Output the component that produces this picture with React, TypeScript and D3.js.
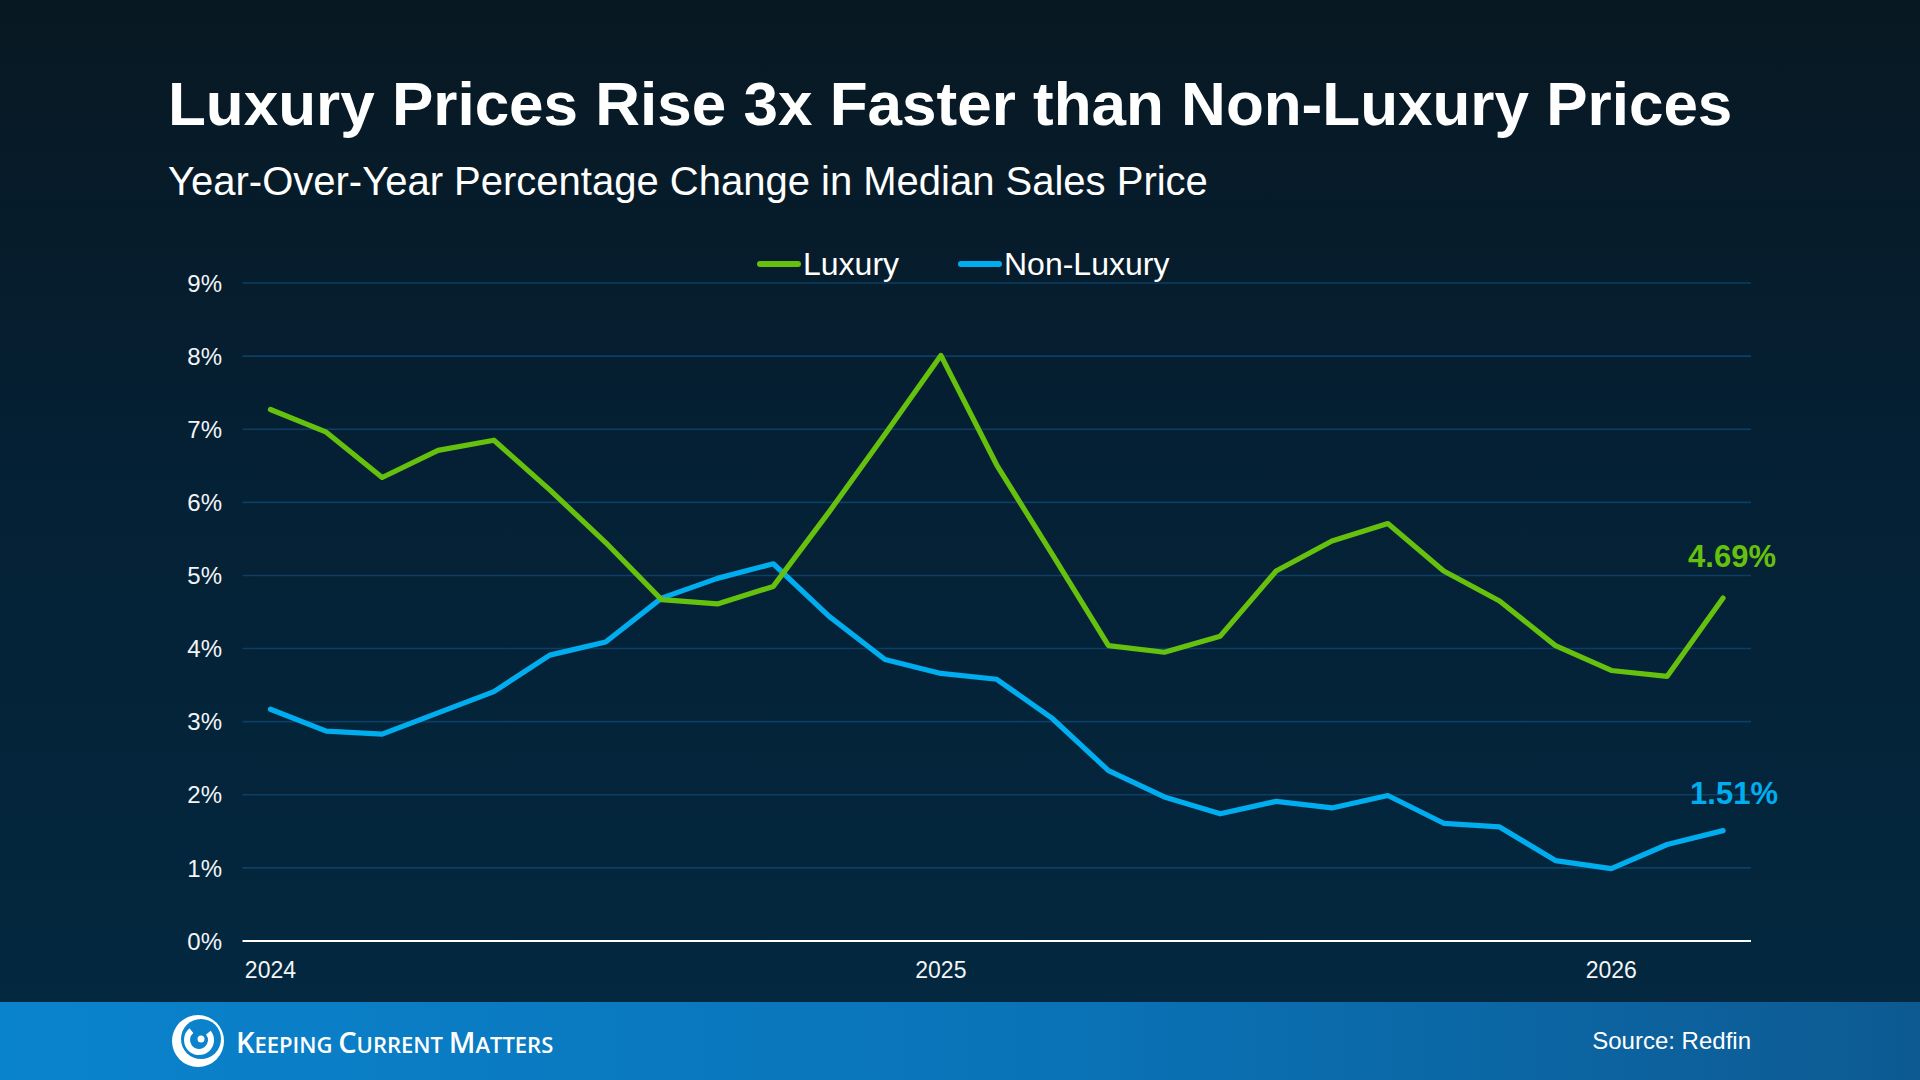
import React, { useEffect, useRef } from 'react';
import * as d3 from 'd3';

// monthly points, Jan 2024 .. Mar 2026
const months = [
  'Jan 2024', 'Feb 2024', 'Mar 2024', 'Apr 2024', 'May 2024', 'Jun 2024', 'Jul 2024', 'Aug 2024', 'Sep 2024',
  'Oct 2024', 'Nov 2024', 'Dec 2024', 'Jan 2025', 'Feb 2025', 'Mar 2025', 'Apr 2025', 'May 2025', 'Jun 2025',
  'Jul 2025', 'Aug 2025', 'Sep 2025', 'Oct 2025', 'Nov 2025', 'Dec 2025', 'Jan 2026', 'Feb 2026', 'Mar 2026',
];

const luxury = [
  7.27, 6.96, 6.34, 6.71, 6.85, 6.17, 5.45, 4.67, 4.61, 4.85, 5.87, 6.93, 8.01, 6.51,
  5.28, 4.04, 3.95, 4.17, 5.06, 5.47, 5.71, 5.06, 4.65, 4.04, 3.70, 3.62, 4.69,
];

const nonLuxury = [
  3.17, 2.87, 2.83, 3.12, 3.41, 3.91, 4.09, 4.69, 4.96, 5.16, 4.44, 3.85, 3.66, 3.58,
  3.04, 2.33, 1.97, 1.74, 1.91, 1.82, 1.99, 1.61, 1.56, 1.10, 0.99, 1.32, 1.51,
];

const yTicks = [0, 1, 2, 3, 4, 5, 6, 7, 8, 9];
const xTickMonths = ['Jan 2024', 'Jan 2025', 'Jan 2026'];
const xTickLabels = ['2024', '2025', '2026'];

const GREEN = '#66c10f';
const BLUE = '#00adef';
const FONT = '"Liberation Sans", Arial, Helvetica, sans-serif';

const App: React.FC = () => {
  const svgRef = useRef<SVGSVGElement>(null);
  const width = 1920;
  const height = 1080;

  useEffect(() => {
    if (!svgRef.current) return;
    const svg = d3.select(svgRef.current);
    svg.selectAll('*').remove();

    // gradients
    const defs = svg.append('defs');
    const bg = defs.append('linearGradient').attr('id', 'bg')
      .attr('x1', 0).attr('y1', 0).attr('x2', 0).attr('y2', 1);
    bg.append('stop').attr('offset', '0%').attr('stop-color', '#081822');
    bg.append('stop').attr('offset', '45%').attr('stop-color', '#052034');
    bg.append('stop').attr('offset', '100%').attr('stop-color', '#03283f');
    const foot = defs.append('linearGradient').attr('id', 'foot')
      .attr('x1', 0).attr('y1', 0).attr('x2', 1).attr('y2', 0);
    foot.append('stop').attr('offset', '0%').attr('stop-color', '#0a83cd');
    foot.append('stop').attr('offset', '55%').attr('stop-color', '#0a73b7');
    foot.append('stop').attr('offset', '100%').attr('stop-color', '#0d5a92');

    svg.append('rect').attr('width', width).attr('height', 1002).attr('fill', 'url(#bg)');
    svg.append('rect').attr('y', 1002).attr('width', width).attr('height', 78).attr('fill', 'url(#foot)');

    // titles
    svg.append('text')
      .attr('x', 168).attr('y', 125)
      .attr('fill', '#ffffff')
      .style('font-family', FONT).style('font-weight', 'bold').style('font-size', '62px')
      .text('Luxury Prices Rise 3x Faster than Non-Luxury Prices');
    svg.append('text')
      .attr('x', 168).attr('y', 195)
      .attr('fill', '#ffffff')
      .style('font-family', FONT).style('font-size', '40px')
      .text('Year-Over-Year Percentage Change in Median Sales Price');

    // scales
    const x = d3.scalePoint<string>().domain(months).range([242.5, 1751]).padding(0.5);
    const y = d3.scaleLinear().domain([0, 9]).range([941, 283]);

    // grid lines
    svg.append('g')
      .selectAll('line')
      .data(yTicks.filter(t => t > 0))
      .enter()
      .append('line')
      .attr('x1', 242.5).attr('x2', 1751)
      .attr('y1', d => y(d)).attr('y2', d => y(d))
      .attr('stroke', '#0c3f63').attr('stroke-width', 1.6);

    // y labels
    svg.append('g')
      .selectAll('text')
      .data(yTicks)
      .enter()
      .append('text')
      .attr('x', 222).attr('y', d => y(d)).attr('dy', '0.36em')
      .attr('text-anchor', 'end')
      .attr('fill', '#f2f5f8')
      .style('font-family', FONT).style('font-size', '24px')
      .text(d => `${d}%`);

    // baseline
    svg.append('line')
      .attr('x1', 242.5).attr('x2', 1751)
      .attr('y1', y(0)).attr('y2', y(0))
      .attr('stroke', '#ffffff').attr('stroke-width', 2);

    // x labels
    svg.append('g')
      .selectAll('text')
      .data(xTickMonths)
      .enter()
      .append('text')
      .attr('x', d => x(d) as number).attr('y', 978)
      .attr('text-anchor', 'middle')
      .attr('fill', '#f2f5f8')
      .style('font-family', FONT).style('font-size', '23px')
      .text((d, i) => xTickLabels[i]);

    // lines
    const line = d3.line<number>()
      .x((d, i) => x(months[i]) as number)
      .y(d => y(d));

    [
      { values: nonLuxury, color: BLUE },
      { values: luxury, color: GREEN },
    ].forEach(s => {
      svg.append('path')
        .datum(s.values)
        .attr('d', line)
        .attr('fill', 'none')
        .attr('stroke', s.color)
        .attr('stroke-width', 5.2)
        .attr('stroke-linejoin', 'round')
        .attr('stroke-linecap', 'round');
    });

    // end-value labels
    const last = months[months.length - 1];
    svg.append('text')
      .attr('x', (x(last) as number) + 9).attr('y', 567)
      .attr('text-anchor', 'middle')
      .attr('fill', GREEN)
      .style('font-family', FONT).style('font-weight', 'bold').style('font-size', '31px')
      .text(`${luxury[luxury.length - 1].toFixed(2)}%`);
    svg.append('text')
      .attr('x', (x(last) as number) + 11).attr('y', 804)
      .attr('text-anchor', 'middle')
      .attr('fill', BLUE)
      .style('font-family', FONT).style('font-weight', 'bold').style('font-size', '31px')
      .text(`${nonLuxury[nonLuxury.length - 1].toFixed(2)}%`);

    // legend
    const legend = [
      { label: 'Luxury', color: GREEN, x0: 760 },
      { label: 'Non-Luxury', color: BLUE, x0: 961 },
    ];
    const lg = svg.append('g');
    legend.forEach(l => {
      lg.append('line')
        .attr('x1', l.x0).attr('x2', l.x0 + 38)
        .attr('y1', 264).attr('y2', 264)
        .attr('stroke', l.color).attr('stroke-width', 6).attr('stroke-linecap', 'round');
      lg.append('text')
        .attr('x', l.x0 + 43).attr('y', 275)
        .attr('fill', '#ffffff')
        .style('font-family', FONT).style('font-size', '32px')
        .text(l.label);
    });

    // footer logo (swirl)
    const logo = svg.append('g').attr('transform', 'translate(198,1041)');
    logo.append('circle').attr('r', 26).attr('fill', '#ffffff');
    logo.append('circle').attr('r', 20).attr('cx', 3).attr('cy', -2).attr('fill', '#0a82cc');
    logo.append('path')
      .attr('d', d3.arc()({ innerRadius: 9, outerRadius: 15, startAngle: 0.9, endAngle: 5.6 }) as string)
      .attr('transform', 'translate(1,-1)')
      .attr('fill', '#ffffff');
    logo.append('circle').attr('r', 3.5).attr('cx', 3).attr('cy', -2).attr('fill', '#ffffff');

    const brand = svg.append('text')
      .attr('x', 236).attr('y', 1053)
      .attr('fill', '#ffffff')
      .style('font-family', '"Open Sans", "Noto Sans", sans-serif')
      .style('font-weight', 600);
    [['K', 'EEPING '], ['C', 'URRENT '], ['M', 'ATTERS']].forEach(([a, b]) => {
      brand.append('tspan').style('font-size', '29px').text(a);
      brand.append('tspan').style('font-size', '22px').text(b);
    });

    svg.append('text')
      .attr('x', 1751).attr('y', 1049)
      .attr('text-anchor', 'end')
      .attr('fill', '#ffffff')
      .style('font-family', FONT).style('font-size', '24px')
      .text('Source: Redfin');
  }, []);

  return (
    <div style={{ position: 'absolute', left: 0, top: 0 }}>
      <svg ref={svgRef} width={width} height={height} style={{ display: 'block' }} />
    </div>
  );
};

export default App;
